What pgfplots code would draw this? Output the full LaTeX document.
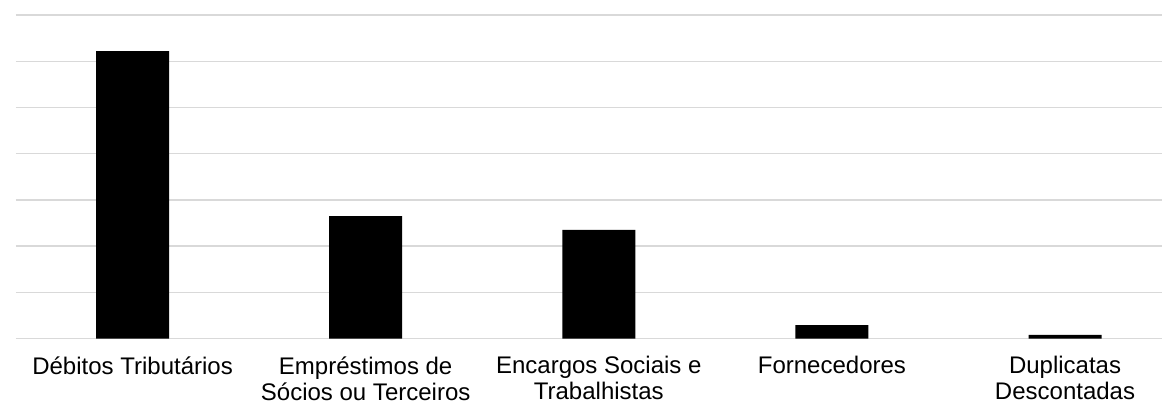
\documentclass[border=0pt]{standalone}
\usepackage{pgfplots}
\pgfplotsset{compat=1.18}
\usepackage{fontspec}
\setmainfont{Liberation Sans}

\definecolor{gridgray}{RGB}{217,217,217}

\begin{document}
\begin{tikzpicture}
\begin{axis}[
    scale only axis,
    width=582.8pt, height=161.75pt,
    xmin=-0.5, xmax=4.5,
    ymin=0, ymax=7,
    ytick={0,1,...,7},
    yticklabels={},
    xtick=data,
    xticklabels={D\'ebitos Tribut\'arios, Empr\'estimos de\\S\'ocios ou Terceiros, Encargos Sociais e\\Trabalhistas, Fornecedores, Duplicatas\\Descontadas},
    xticklabel style={align=center, font=\fontsize{12pt}{13pt}\selectfont, anchor=north, yshift=-5.5pt},
    major tick length=0pt,
    axis line style={draw=none},
    ymajorgrids,
    grid style={color=gridgray, line width=0.65pt},
    ybar, bar width=36.5pt,
    clip=false,
]
\addplot[fill=black, draw=none] coordinates {(0,6.22) (1,2.65) (2,2.35) (3,0.29) (4,0.076)};
\end{axis}
\pgfresetboundingbox
\path[use as bounding box] (-8pt,-32.75pt) rectangle (573pt,169.25pt);
\end{tikzpicture}
\end{document}
